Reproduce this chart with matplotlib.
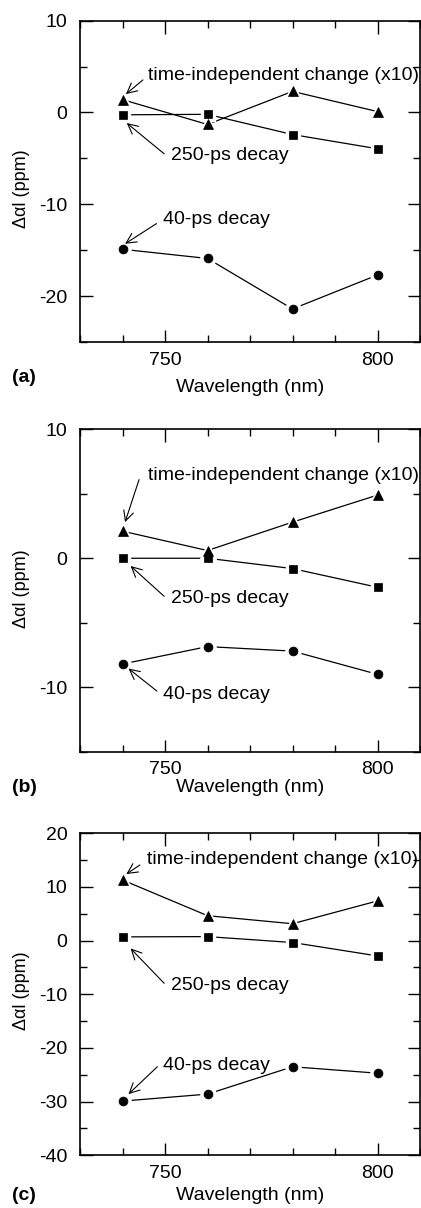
import matplotlib.pyplot as plt
from matplotlib.ticker import MultipleLocator

plt.rcParams['font.family'] = ['Liberation Sans', 'DejaVu Sans']
plt.rcParams['axes.unicode_minus'] = False

wavelength = [740, 760, 780, 800]

# panel (a)
tind_a = [1.4, -1.3, 2.3, 0.1]
ps250_a = [-0.25, -0.2, -2.4, -3.95]
ps40_a = [-14.9, -15.9, -21.4, -17.7]

# panel (b)
tind_b = [2.1, 0.6, 2.8, 4.9]
ps250_b = [0.0, 0.0, -0.8, -2.25]
ps40_b = [-8.2, -6.85, -7.2, -9.0]

# panel (c)
tind_c = [11.3, 4.65, 3.15, 7.4]
ps250_c = [0.7, 0.75, -0.35, -2.85]
ps40_c = [-29.9, -28.6, -23.5, -24.7]

labels = ['time-independent change (x10)', '250-ps decay', '40-ps decay']

# (text x, text y, arrow start x, arrow start y, arrow tip x, arrow tip y)
notes_a = [(746, 4.0, 744.8, 3.55, 740.8, 2.0),
           (751.5, -4.7, 749.8, -4.5, 741.0, -1.15),
           (749.6, -11.7, 748.0, -12.1, 740.6, -14.3)]
notes_b = [(746, 6.4, 743.9, 6.1, 740.6, 2.8),
           (751.5, -3.15, 749.8, -2.95, 741.9, -0.6),
           (749.6, -10.55, 748.1, -10.3, 741.4, -8.55)]
notes_c = [(745.7, 15.15, 744.1, 14.1, 740.9, 12.4),
           (751.5, -8.45, 749.8, -7.95, 741.9, -1.45),
           (749.6, -23.2, 748.2, -23.5, 741.4, -28.6)]

panels = [
    ('(a)', tind_a, ps250_a, ps40_a, notes_a, (-25, 10), 20.7, 342.0, 378, 387, 189),
    ('(b)', tind_b, ps250_b, ps40_b, notes_b, (-15, 10), 429.3, 751.7, 787, 788, 589),
    ('(c)', tind_c, ps250_c, ps40_c, notes_c, (-40, 20), 833.3, 1155.3, 1196, 1196, 991),
]

W, H = 421, 1208
fig = plt.figure(figsize=(W / 100, H / 100), dpi=100)

for tag, tind, p250, p40, notes, ylim, top, bot, tag_y, xl_y, yl_y in panels:
    ax = fig.add_axes([80 / W, 1 - bot / H, 340 / W, (bot - top) / H])
    series = [(tind, '^', 7.5), (p250, 's', 6.2), (p40, 'o', 6.4)]
    for ys, m, size in series:
        ax.plot(wavelength, ys, color='black', lw=0.9, zorder=2)
    # white halo so the lines stop short of the markers
    for ys, m, size in series:
        ax.plot(wavelength, ys, ls='none', marker=m, ms=size + 4.5,
                mfc='white', mec='white', zorder=3)
    for ys, m, size in series:
        ax.plot(wavelength, ys, ls='none', marker=m, ms=size,
                mfc='black', mec='black', mew=0.5, zorder=4)
    for lab, (tx, ty, sx, sy, hx, hy) in zip(labels, notes):
        ax.text(tx, ty, lab, fontsize=14, ha='left', va='center')
        ax.annotate('', xy=(hx, hy), xytext=(sx, sy),
                    arrowprops=dict(arrowstyle='->', lw=0.8, color='black',
                                    shrinkA=0, shrinkB=0, mutation_scale=18))
    ax.set_xlim(730, 810)
    ax.set_ylim(*ylim)
    ax.xaxis.set_major_locator(MultipleLocator(50))
    ax.xaxis.set_minor_locator(MultipleLocator(10))
    ax.yaxis.set_major_locator(MultipleLocator(10))
    ax.yaxis.set_minor_locator(MultipleLocator(5))
    ax.tick_params(which='both', direction='in', top=True, right=True, width=1.0)
    ax.tick_params(which='major', length=9, labelsize=14, pad=7)
    ax.tick_params(which='minor', length=5)
    ax.tick_params(axis='y', which='major', pad=9)
    for s in ax.spines.values():
        s.set_linewidth(1.2)
    fig.text(24 / W, 1 - tag_y / H, tag, fontsize=14, fontweight='bold',
             ha='center', va='center')
    fig.text(250 / W, 1 - xl_y / H, 'Wavelength (nm)', fontsize=14,
             ha='center', va='center')
    fig.text(22 / W, 1 - yl_y / H, 'Δαl (ppm)', fontsize=13, rotation=90,
             ha='center', va='center')

fig.savefig('out.png', dpi=100)
